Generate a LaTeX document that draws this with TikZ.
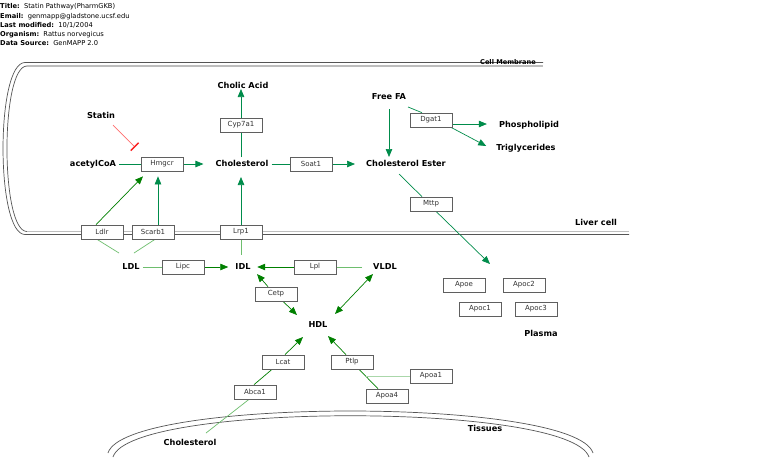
\documentclass[tikz,border=0pt]{standalone}
\usepackage{fontspec}
\setmainfont{DejaVu Sans}
\usetikzlibrary{arrows.meta}
\pgfdeclarelayer{back}
\pgfdeclarelayer{edges}
\pgfsetlayers{back,edges,main}
\definecolor{tg}{RGB}{0,140,75}
\definecolor{dg}{RGB}{0,128,0}
\definecolor{lg}{RGB}{110,190,110}
\definecolor{vlg}{RGB}{170,215,170}
\definecolor{memdark}{RGB}{85,85,85}
\definecolor{memlight}{RGB}{190,190,190}
\definecolor{boxline}{RGB}{95,95,95}
\definecolor{boxtext}{RGB}{50,50,50}
\definecolor{inhline}{RGB}{255,110,110}
\definecolor{inhbar}{RGB}{250,30,30}
\tikzset{
  met/.style={font=\bfseries\fontsize{8.2}{9}\selectfont, inner sep=3pt, text height=6pt, text depth=1.6pt},
  gene/.style={draw=boxline, fill=white, line width=0.7pt, minimum width=42pt, minimum height=14pt, inner sep=0pt,
     font=\fontsize{7}{7}\selectfont, text=boxtext},
  hdr/.style={anchor=west, inner sep=0pt, font=\fontsize{6.7}{7}\selectfont},
  conn/.style={line width=0.7pt},
  arr/.style={-{Triangle[length=8pt,width=6.5pt]}},
  arrb/.style={{Triangle[length=8pt,width=6.5pt]}-{Triangle[length=8pt,width=6.5pt]}},
  memb/.style={draw=memdark, line width=0.7pt},
}
\begin{document}
\begin{tikzpicture}[x=1pt,y=-1pt]
\useasboundingbox (0,0) rectangle (760,467);
\begin{pgfonlayer}{back}
\fill[white] (0,0) rectangle (760,467);
% cell membrane
\draw[memb] (543,62.5) -- (25,62.5) .. controls (-4.3,62.5) and (-4.3,234.5) .. (25,234.5) -- (629,234.5);
\draw[memb] (27,66) .. controls (0.3,66) and (0.3,231.5) .. (27,231.5);
\draw[memlight, line width=1.3pt] (27,66) -- (543,66);
\draw[memlight, line width=1.3pt] (27,231.7) -- (629,231.7);
% tissue membrane
\draw[memb] (108,453) .. controls (125,397) and (575,397) .. (593,453);
\draw[memb] (113,457) .. controls (130,402) and (570,402) .. (589,457);
\end{pgfonlayer}

% header
\node[hdr] (h1) at (0,7) {\textbf{Title:}\ \ Statin Pathway(PharmGKB)};
\node[hdr] (h2) at (0,16.5) {\textbf{Email:}\ \ genmapp@gladstone.ucsf.edu};
\node[hdr] (h3) at (0,25.5) {\textbf{Last modified:}\ \ 10/1/2004};
\node[hdr] (h4) at (0,34.5) {\textbf{Organism:}\ \ Rattus norvegicus};
\node[hdr] (h5) at (0,43.5) {\textbf{Data Source:}\ \ GenMAPP 2.0};

% compartment labels
\node[font=\bfseries\fontsize{6.6}{7}\selectfont, inner sep=0pt] (cellmem) at (508,62.5) {Cell Membrane};
\node[met] (liver) at (596,223) {Liver cell};
\node[met] (plasma) at (541,334) {Plasma};
\node[met] (tissues) at (485,429) {Tissues};

% metabolites
\node[met] (cholic) at (243,86) {Cholic Acid};
\node[met] (statin) at (101,116) {Statin};
\node[met] (acoa) at (93,164) {acetylCoA};
\node[met] (chol) at (242,164) {Cholesterol};
\node[met] (ce) at (406,164) {Cholesterol Ester};
\node[met] (ffa) at (389,97) {Free FA};
\node[met] (phos) at (529,125) {Phospholipid};
\node[met] (trig) at (526,148) {Triglycerides};
\node[met] (ldl) at (131,267) {LDL};
\node[met] (idl) at (243,267) {IDL};
\node[met] (vldl) at (385,267) {VLDL};
\node[met] (hdl) at (318,325) {HDL};
\node[met] (tchol) at (190,443) {Cholesterol};

% gene boxes
\node[gene] (cyp) at (241,125) {Cyp7a1};
\node[gene] (hmgcr) at (162,164) {Hmgcr};
\node[gene] (soat) at (311,164) {Soat1};
\node[gene] (dgat) at (431,120) {Dgat1};
\node[gene] (mttp) at (431,204) {Mttp};
\node[gene] (ldlr) at (102,232) {Ldlr};
\node[gene] (scarb) at (153,232) {Scarb1};
\node[gene] (lrp) at (241,232) {Lrp1};
\node[gene] (lipc) at (183,267) {Lipc};
\node[gene] (lpl) at (315,267) {Lpl};
\node[gene] (cetp) at (276,294) {Cetp};
\node[gene] (lcat) at (283,362) {Lcat};
\node[gene] (ptlp) at (352,362) {Ptlp};
\node[gene] (apoa1) at (431,376) {Apoa1};
\node[gene] (abca) at (255,392) {Abca1};
\node[gene] (apoa4) at (387,396) {Apoa4};
\node[gene] (apoe) at (464,285) {Apoe};
\node[gene] (apoc2) at (524,285) {Apoc2};
\node[gene] (apoc1) at (480,309) {Apoc1};
\node[gene] (apoc3) at (536,309) {Apoc3};
\coordinate (mttpT) at (490,264);

\begin{pgfonlayer}{edges}
\draw[conn,tg] (acoa.east) -- (hmgcr.west);
\draw[conn,inhline,-{Bar[width=11pt,line width=1.4pt,color=inhbar]}] ([shift={(12,9)}]statin.center) -- ([shift={(-5.5,-9.5)}]hmgcr.north west);
\draw[conn,tg,arr] (hmgcr.east) -- ([shift={(-9,0)}]chol.west);
\draw[conn,tg] (cyp.south |- chol.north) -- (cyp.south);
\draw[conn,tg,arr] (cyp.north) -- (cyp.north |- cholic.south) [shorten >=-4pt];
\draw[conn,tg] (chol.east) -- (soat.west);
\draw[conn,tg,arr] (soat.east) -- ([shift={(-8,0)}]ce.west);
\draw[conn,tg,arr] ([shift={(0,5)}]ffa.south) -- (ffa.south |- ce.north);
\draw[conn,tg] ([shift={(19,10)}]ffa.center) -- ([shift={(-9,0)}]dgat.north);
\draw[conn,tg,arr] ([shift={(0,4)}]dgat.east) -- ([shift={(-9,-1)}]phos.west);
\draw[conn,tg,arr] ([shift={(-2,7)}]dgat.east) -- ([shift={(-7,-2)}]trig.west);
\draw[conn,tg] ([shift={(-7,10)}]ce.center) -- ([shift={(-9,0)}]mttp.north);
\draw[conn,tg,arr] ([shift={(5,0)}]mttp.south) -- (mttpT);

\draw[conn,dg,arr] ([shift={(-6,0)}]ldlr.north) -- ([shift={(-19,5)}]hmgcr.south);
\draw[conn,tg,arr] ([shift={(5,0)}]scarb.north) -- ([shift={(-4,5)}]hmgcr.south);
\draw[conn,tg,arr,shorten >=6pt] (lrp.north) -- (lrp.north |- chol.south);
\draw[conn,lg] ([shift={(-5,0)}]ldlr.south) -- ([shift={(-12,-14)}]ldl.center);
\draw[conn,lg] ([shift={(2,0)}]scarb.south) -- ([shift={(3,-14)}]ldl.center);
\draw[conn,lg] (ldl.east) -- (lipc.west);
\draw[conn,dg,arr] (lipc.east) -- ([shift={(-4,0)}]idl.west);
\draw[conn,lg,shorten >=5pt] (lrp.south) -- (lrp.south |- idl.north);
\draw[conn,lg] ([shift={(-8,0)}]vldl.west) -- (lpl.east);
\draw[conn,dg,arr] (lpl.west) -- ([shift={(3.5,0)}]idl.east);
\draw[conn,dg,arr] ([shift={(-8,0)}]cetp.north) -- ([shift={(14,7)}]idl.center);
\draw[conn,dg,arr] ([shift={(7,0)}]cetp.south) -- ([shift={(-21,-10)}]hdl.center);
\draw[conn,dg,arrb] ([shift={(17,-11)}]hdl.center) -- ([shift={(-12,7)}]vldl.center);
\draw[conn,dg,arr] ([shift={(2,0)}]lcat.north) -- ([shift={(-15,12)}]hdl.center);
\draw[conn,dg,arr] ([shift={(-6,0)}]ptlp.north) -- ([shift={(10,11)}]hdl.center);
\draw[conn,dg] ([shift={(-1,0)}]abca.north) -- ([shift={(-11,0)}]lcat.south);
\draw[conn,lg] ([shift={(16,-10)}]tchol.center) -- ([shift={(-6,0)}]abca.south);
\draw[conn,dg] ([shift={(7,0)}]ptlp.south) -- ([shift={(-9,0)}]apoa4.north);
\draw[conn,vlg] ([shift={(14,14)}]ptlp.center) -- (apoa1.west);
\end{pgfonlayer}
\end{tikzpicture}
\end{document}
